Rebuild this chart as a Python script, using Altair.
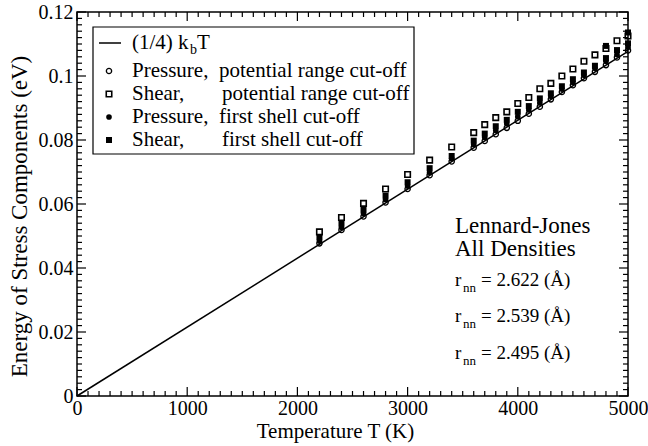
import altair as alt
import pandas as pd

FONT = "'Liberation Serif', 'Times New Roman', Times, serif"
W, H = 551, 384

# Temperatures (K) at which stress-component energies were sampled
temps = [2200, 2400, 2600, 2800, 3000, 3200, 3400, 3600, 3700, 3800, 3900,
         4000, 4100, 4200, 4300, 4400, 4500, 4600, 4700, 4800, 4900, 5000]

# Energies (eV)
pressure_range = [0.0477, 0.0519, 0.0561, 0.0605, 0.0647, 0.0690, 0.0733, 0.0776,
                  0.0797, 0.0818, 0.0838, 0.0860, 0.0882, 0.0904, 0.0927, 0.0950,
                  0.0971, 0.0993, 0.1013, 0.1034, 0.1058, 0.1080]
shear_range = [0.0513, 0.0558, 0.0602, 0.0647, 0.0692, 0.0737, 0.0778, 0.0823,
               0.0848, 0.0870, 0.0888, 0.0914, 0.0933, 0.0960, 0.0977, 0.1000,
               0.1022, 0.1046, 0.1066, 0.1086, 0.1110, 0.1125]
pressure_shell = [0.0484, 0.0527, 0.0570, 0.0614, 0.0656, 0.0699, 0.0742, 0.0786,
                  0.0808, 0.0830, 0.0851, 0.0873, 0.0894, 0.0916, 0.0937, 0.0959,
                  0.0980, 0.1002, 0.1024, 0.1046, 0.1067, 0.1090]
shear_shell = [0.0496, 0.0539, 0.0582, 0.0626, 0.0668, 0.0712, 0.0750, 0.0798,
               0.0820, 0.0843, 0.0863, 0.0888, 0.0906, 0.0930, 0.0946, 0.0968,
               0.0990, 0.1011, 0.1032, 0.1056, 0.1081, 0.1102]
shear_shell_hi_T = [4800, 5000]
shear_shell_hi_E = [0.1094, 0.1136]

# (1/4) k_B T reference line
line_T = [0, 5000]
line_E = [0.0, 0.1077]

x_major = [0, 1000, 2000, 3000, 4000, 5000]
y_major = [0, 0.02, 0.04, 0.06, 0.08, 0.1, 0.12]
x_minor = [v for v in range(0, 5001, 100) if v % 1000]
y_minor = [round(i * 0.002, 3) for i in range(61) if i % 10]

xs = alt.Scale(domain=[0, 5000], nice=False, zero=False)
ys = alt.Scale(domain=[0, 0.12], nice=False, zero=False)

one = pd.DataFrame({"k": [0]})

# reference line carries the labelled axes
line_df = pd.DataFrame({"T": line_T, "E": line_E})
line = alt.Chart(line_df).mark_line(color="black", strokeWidth=1.5).encode(
    x=alt.X("T:Q", scale=xs,
            axis=alt.Axis(values=x_major, format="d", ticks=False, tickSize=0,
                          domain=False, grid=False, labelFont=FONT, labelFontSize=20,
                          labelColor="black", labelPadding=2, labelFlush=False,
                          title="Temperature T (K)", titleFont=FONT, titleFontSize=21,
                          titleFontWeight="normal", titleColor="black", titlePadding=2,
                          titleX=258, titleAlign="center")),
    y=alt.Y("E:Q", scale=ys,
            axis=alt.Axis(values=y_major,
                          labelExpr="datum.value == 0 ? '0' : format(datum.value, '.2~f')",
                          ticks=False, tickSize=0,
                          domain=False, grid=False, labelFont=FONT, labelFontSize=20,
                          labelColor="black", labelPadding=4, labelFlush=False,
                          title="Energy of Stress Components (eV)", titleFont=FONT,
                          titleFontSize=23, titleFontWeight="normal", titleColor="black",
                          titlePadding=7, titleY=204, titleAlign="center")),
)


def pts(T, E, shape, filled, size, sw=1.3):
    df = pd.DataFrame({"T": T, "E": E})
    return alt.Chart(df).mark_point(shape=shape, filled=filled, size=size, color="black",
                                    strokeWidth=sw, opacity=1).encode(
        x=alt.X("T:Q", scale=xs, axis=None), y=alt.Y("E:Q", scale=ys, axis=None))


points = [
    pts(temps, pressure_range, "circle", False, 28),
    pts(temps, pressure_shell, "circle", True, 32),
    pts(temps, shear_shell, "square", True, 36),
    pts(shear_shell_hi_T, shear_shell_hi_E, "square", True, 36),
    pts(temps, shear_range, "square", False, 30, sw=1.6),
]


# inward ticks on all four sides
def xticks(vals, length):
    df = pd.DataFrame({"v": vals})
    base = alt.Chart(df).mark_rule(color="black", strokeWidth=1.2)
    return [
        base.encode(x=alt.X("v:Q", scale=xs, axis=None), y=alt.value(H), y2=alt.value(H - length)),
        base.encode(x=alt.X("v:Q", scale=xs, axis=None), y=alt.value(0), y2=alt.value(length)),
    ]


def yticks(vals, length):
    df = pd.DataFrame({"v": vals})
    base = alt.Chart(df).mark_rule(color="black", strokeWidth=1.2)
    return [
        base.encode(y=alt.Y("v:Q", scale=ys, axis=None), x=alt.value(0), x2=alt.value(length)),
        base.encode(y=alt.Y("v:Q", scale=ys, axis=None), x=alt.value(W), x2=alt.value(W - length)),
    ]


ticks = xticks(x_major, 9) + xticks(x_minor, 5) + yticks(y_major, 9) + yticks(y_minor, 5)


def text(s, x, y, size=21, align="left"):
    return alt.Chart(one).mark_text(text=s, align=align, baseline="middle", font=FONT,
                                    fontSize=size, color="black").encode(
        x=alt.value(x), y=alt.value(y))


def marker(x, y, shape, filled, size, sw=1.3):
    return alt.Chart(one).mark_point(shape=shape, filled=filled, size=size, color="black",
                                     strokeWidth=sw, opacity=1).encode(
        x=alt.value(x), y=alt.value(y))


# legend
box = alt.Chart(one).mark_rect(fill="white", stroke="black", strokeWidth=1.2).encode(
    x=alt.value(16), x2=alt.value(337), y=alt.value(15), y2=alt.value(142))
legend_line = alt.Chart(one).mark_rule(color="black", strokeWidth=1.5).encode(
    x=alt.value(22), x2=alt.value(44), y=alt.value(31))
legend = [
    box, legend_line,
    text("(1/4) k", 55, 31), text("b", 113, 38, size=14), text("T", 120, 31),
    marker(32, 59, "circle", False, 28), text("Pressure,", 55, 59), text("potential range cut-off", 142, 59),
    marker(32, 82, "square", False, 30, sw=1.6), text("Shear,", 55, 82), text("potential range cut-off", 145, 82),
    marker(32, 105, "circle", True, 32), text("Pressure,", 55, 105), text("first shell cut-off", 142, 105),
    marker(32, 128, "square", True, 36), text("Shear,", 55, 128), text("first shell cut-off", 145, 128),
]

# annotation
note = [
    text("Lennard-Jones", 378, 214, size=23),
    text("All Densities", 378, 237, size=23),
]
for yy, val in [(268, "2.622"), (304, "2.539"), (341, "2.495")]:
    note += [text("r", 378, yy, size=19), text("nn", 386, yy + 8, size=13),
             text(f"= {val} (Å)", 404, yy, size=19)]

chart = alt.layer(line, *ticks, *points, *legend, *note).resolve_axis(
    x="independent", y="independent"
).properties(
    width=W, height=H, autosize="none",
    padding={"left": 77, "top": 12, "right": 20, "bottom": 50},
    background="white",
).configure_view(stroke="black", strokeWidth=1.5)

chart.save("out.html", embed_options={"renderer": "svg", "actions": False})
